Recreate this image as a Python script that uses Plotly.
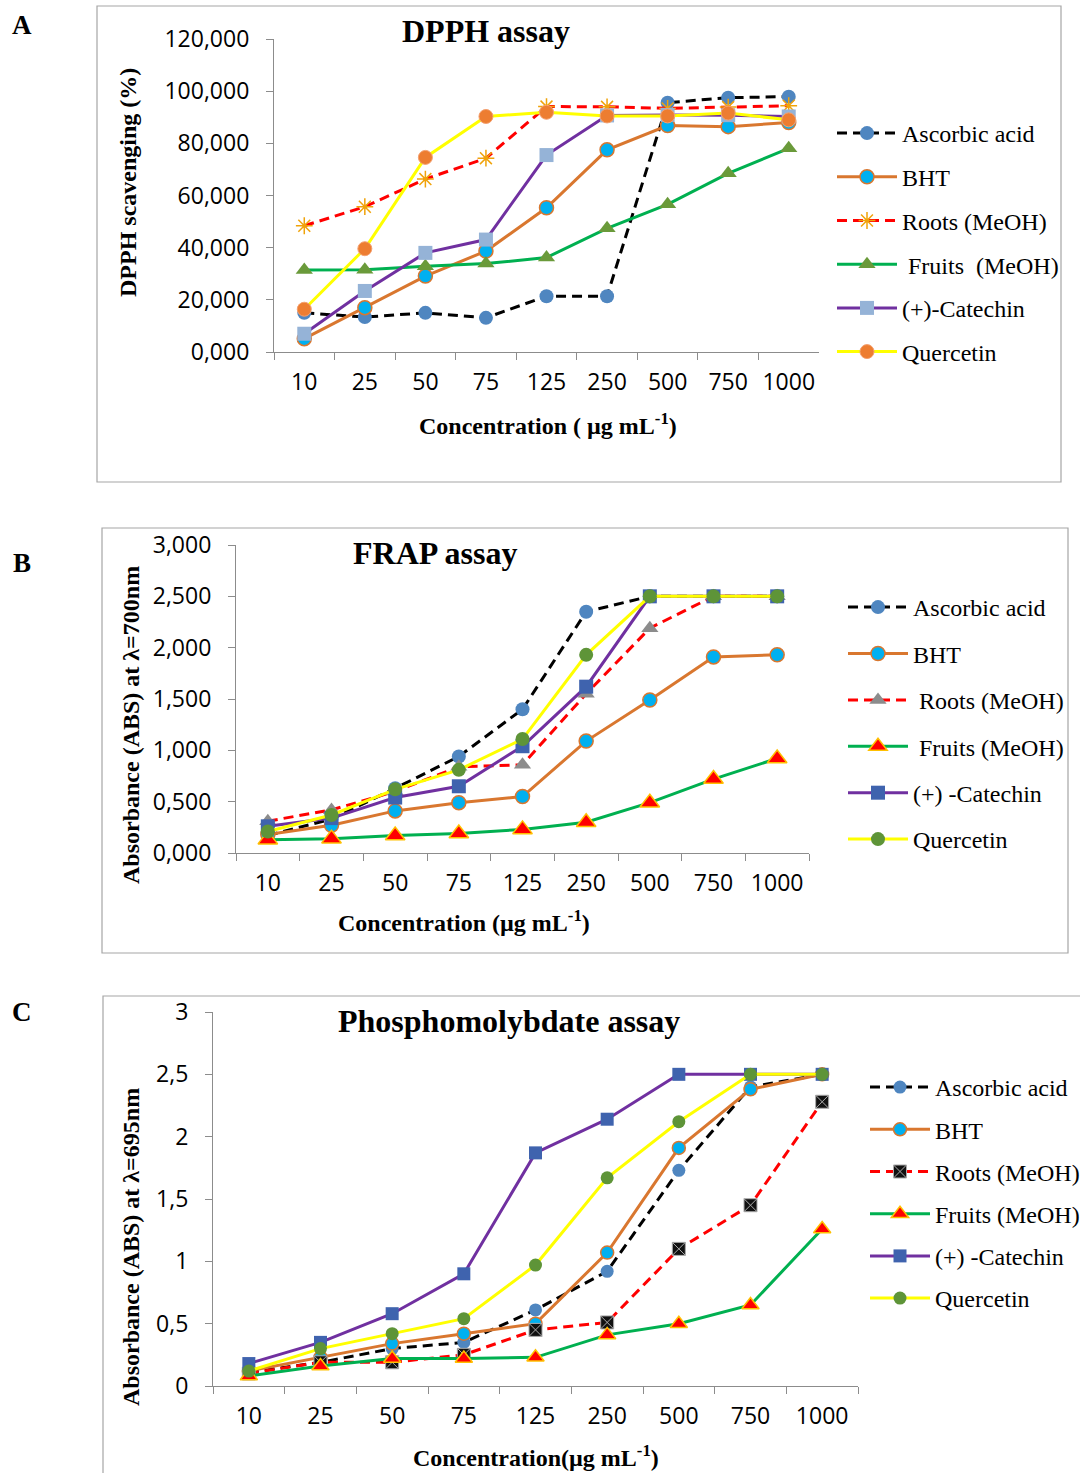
import plotly.graph_objects as go

W, H = 1080, 1473
def px(x): return x / W
def py(y): return 1 - y / H

conc = ["10", "25", "50", "75", "125", "250", "500", "750", "1000"]

names_A = ["Ascorbic acid", "BHT", "Roots (MeOH)", "\u00a0Fruits \u00a0(MeOH)", "(+)-Catechin", "Quercetin"]
names_B = ["Ascorbic acid", "BHT", "\u00a0Roots (MeOH)", "\u00a0Fruits (MeOH)", "(+) -Catechin", "Quercetin"]
names_C = ["Ascorbic acid", "BHT", "Roots (MeOH)", "Fruits (MeOH)", "(+) -Catechin", "Quercetin"]

# DPPH (%)
dpph_ascorbic = [15.0, 13.4, 15.0, 13.1, 21.4, 21.4, 95.6, 97.5, 97.9]
dpph_bht = [5.1, 17.0, 29.1, 38.7, 55.3, 77.5, 86.8, 86.4, 88.0]
dpph_roots = [48.4, 55.7, 66.3, 74.3, 94.1, 94.0, 93.4, 93.9, 94.4]
dpph_fruits = [31.4, 31.5, 32.9, 33.9, 36.2, 47.4, 56.6, 68.5, 78.1]
dpph_catechin = [7.0, 23.4, 38.0, 43.1, 75.5, 90.7, 90.9, 90.8, 90.3]
dpph_quercetin = [16.4, 39.6, 74.6, 90.3, 91.9, 90.5, 90.5, 91.6, 89.0]

# FRAP (ABS 700 nm)
frap_ascorbic = [0.17, 0.33, 0.63, 0.94, 1.40, 2.35, 2.50, 2.50, 2.50]
frap_bht = [0.18, 0.27, 0.41, 0.49, 0.55, 1.09, 1.49, 1.91, 1.93]
frap_roots = [0.31, 0.42, 0.60, 0.84, 0.86, 1.55, 2.19, 2.50, 2.50]
frap_fruits = [0.13, 0.14, 0.17, 0.19, 0.23, 0.30, 0.49, 0.72, 0.92]
frap_catechin = [0.26, 0.34, 0.54, 0.65, 1.04, 1.62, 2.50, 2.50, 2.50]
frap_quercetin = [0.21, 0.37, 0.62, 0.81, 1.11, 1.93, 2.50, 2.50, 2.50]

# Phosphomolybdate (ABS 695 nm)
phos_ascorbic = [0.11, 0.19, 0.30, 0.35, 0.61, 0.92, 1.73, 2.40, 2.50]
phos_bht = [0.12, 0.23, 0.34, 0.42, 0.50, 1.07, 1.91, 2.38, 2.50]
phos_roots = [0.10, 0.19, 0.19, 0.25, 0.45, 0.51, 1.10, 1.45, 2.28]
phos_fruits = [0.08, 0.16, 0.22, 0.22, 0.23, 0.41, 0.50, 0.65, 1.26]
phos_catechin = [0.18, 0.35, 0.58, 0.90, 1.87, 2.14, 2.50, 2.50, 2.50]
phos_quercetin = [0.12, 0.30, 0.42, 0.54, 0.97, 1.67, 2.12, 2.50, 2.50]

yt_A = [0, 20, 40, 60, 80, 100, 120]
yt_A_text = ["0,000", "20,000", "40,000", "60,000", "80,000", "100,000", "120,000"]
yt_B = [0, 0.5, 1, 1.5, 2, 2.5, 3]
yt_B_text = ["0,000", "0,500", "1,000", "1,500", "2,000", "2,500", "3,000"]
yt_C = [0, 0.5, 1, 1.5, 2, 2.5, 3]
yt_C_text = ["0", "0,5", "1", "1,5", "2", "2,5", "3"]

SERIF = "Liberation Serif, Times New Roman, serif"
SANS = "Open Sans, sans-serif"
DASH = "10px,6px"

line_colors = ["#000000", "#D9772F", "#FF0000", "#00B050", "#7030A0", "#FFFF00"]
dashes = [DASH, "solid", DASH, "solid", "solid", "solid"]

markers_A = [
    dict(symbol="circle", color="#4F86C0", size=14),
    dict(symbol="circle", color="#00B0F0", size=14, line=dict(color="#D9772F", width=1.5)),
    dict(symbol="asterisk-open", color="#F0A30A", size=14, line=dict(color="#F0A30A", width=1.5)),
    dict(symbol="triangle-up", color="#6A9A3A", size=15),
    dict(symbol="square", color="#95B3D7", size=14),
    dict(symbol="circle", color="#ED7D31", size=14, line=dict(color="#F4A070", width=1)),
]
markers_B = [
    dict(symbol="circle", color="#4F86C0", size=14),
    dict(symbol="circle", color="#00B0F0", size=14, line=dict(color="#D9772F", width=1.5)),
    dict(symbol="triangle-up", color="#8C8C8C", size=15),
    dict(symbol="triangle-up", color="#FF0000", size=17, line=dict(color="#FFC000", width=1.5)),
    dict(symbol="square", color="#3F63AE", size=14),
    dict(symbol="circle", color="#5E9438", size=14),
]
markers_C = [
    dict(symbol="circle", color="#4F86C0", size=13),
    dict(symbol="circle", color="#00B0F0", size=13, line=dict(color="#D9772F", width=1.5)),
    dict(symbol="square-x", color="#111111", size=13, line=dict(color="#AAAAAA", width=1)),
    dict(symbol="triangle-up", color="#FF0000", size=15, line=dict(color="#FFC000", width=1.5)),
    dict(symbol="square", color="#3F63AE", size=13),
    dict(symbol="circle", color="#5E9438", size=13),
]

panels = [
    ("x", "y", "legend", names_A, markers_A,
     [dpph_ascorbic, dpph_bht, dpph_roots, dpph_fruits, dpph_catechin, dpph_quercetin]),
    ("x2", "y2", "legend2", names_B, markers_B,
     [frap_ascorbic, frap_bht, frap_roots, frap_fruits, frap_catechin, frap_quercetin]),
    ("x3", "y3", "legend3", names_C, markers_C,
     [phos_ascorbic, phos_bht, phos_roots, phos_fruits, phos_catechin, phos_quercetin]),
]

fig = go.Figure()
for pi, (xa, ya, lg, names, mks, series) in enumerate(panels):
    for i in range(6):
        fig.add_trace(go.Scatter(
            x=conc, y=series[i], mode="lines+markers", name=names[i],
            xaxis=xa, yaxis=ya, legend=lg, legendgroup=f"p{pi}s{i}",
            line=dict(color=line_colors[i], width=3, dash=dashes[i]),
            marker=mks[i], cliponaxis=False,
        ))

TICKFONT = dict(family=SANS, size=23, color="#000")

def xaxis(dom, anchor):
    return dict(domain=dom, anchor=anchor, type="category", range=[-0.5, 8.5],
                showline=True, linecolor="#8C8C8C", linewidth=1.2, automargin=False,
                ticks="outside", tickson="boundaries", ticklen=7, tickcolor="#8C8C8C",
                showgrid=False, zeroline=False, ticklabelstandoff=9, tickfont=TICKFONT)

def yaxis(dom, anchor, rng, tv, tt):
    return dict(domain=dom, anchor=anchor, range=rng, tickvals=tv, ticktext=tt,
                showline=True, linecolor="#8C8C8C", linewidth=1.2, automargin=False,
                ticks="outside", ticklen=7, tickcolor="#8C8C8C",
                showgrid=False, zeroline=False, ticklabelstandoff=12, tickfont=TICKFONT)

def legend(xt, ytop, gap):
    return dict(x=px(xt), y=py(ytop), xanchor="left", yanchor="top",
                font=dict(family=SERIF, size=24, color="#000"),
                tracegroupgap=gap, bgcolor="rgba(0,0,0,0)", itemwidth=60)

fig.update_layout(
    width=W, height=H, margin=dict(l=0, r=0, t=0, b=0, autoexpand=False),
    paper_bgcolor="white", plot_bgcolor="white", showlegend=True,
    xaxis=xaxis([px(274), px(819)], "y"),
    yaxis=yaxis([py(352), py(39)], "x", [0, 120], yt_A, yt_A_text),
    xaxis2=xaxis([px(236), px(809)], "y2"),
    yaxis2=yaxis([py(853), py(545)], "x2", [0, 3], yt_B, yt_B_text),
    xaxis3=xaxis([px(213), px(858)], "y3"),
    yaxis3=yaxis([py(1386), py(1012)], "x3", [0, 3], yt_C, yt_C_text),
    legend=legend(832, 111, 9.5),
    legend2=legend(843, 585, 12.2),
    legend3=legend(865, 1065, 8),
)

# panel frames
for (x0, y0, x1, y1) in [(97, 6, 1061, 482), (102, 528, 1068, 953), (103, 996, 1090, 1480)]:
    fig.add_shape(type="rect", xref="paper", yref="paper",
                  x0=px(x0), x1=px(x1), y0=py(y1), y1=py(y0),
                  line=dict(color="#A6A6A6", width=1.2), layer="below")

def ann(text, x, y, size, angle=0, bold=True, family=SERIF):
    fig.add_annotation(text=f"<b>{text}</b>" if bold else text, x=px(x), y=py(y),
                       xref="paper", yref="paper", showarrow=False,
                       xanchor="center", yanchor="middle", textangle=angle,
                       font=dict(family=family, size=size, color="#000"))

ann("A", 22, 25, 27)
ann("B", 22, 563, 27)
ann("C", 22, 1012, 27)
ann("DPPH assay", 486, 31, 32)
ann("FRAP assay", 435, 553, 32)
ann("Phosphomolybdate assay", 509, 1021, 32)
ann("Concentration ( µg mL<sup>-1</sup>)", 548, 424, 24)
ann("Concentration (µg mL<sup>-1</sup>)", 464, 921, 24)
ann("Concentration(µg mL<sup>-1</sup>)", 536, 1456, 24)
ann("DPPH scavenging (%)", 128, 183, 24, angle=-90)
ann("Absorbance (ABS) at λ=700nm", 131, 725, 24, angle=-90)
ann("Absorbance (ABS) at λ=695nm", 131, 1247, 24, angle=-90)

fig.write_html("out.html", config={"displayModeBar": False},
               post_script="document.body.style.margin='0';")
